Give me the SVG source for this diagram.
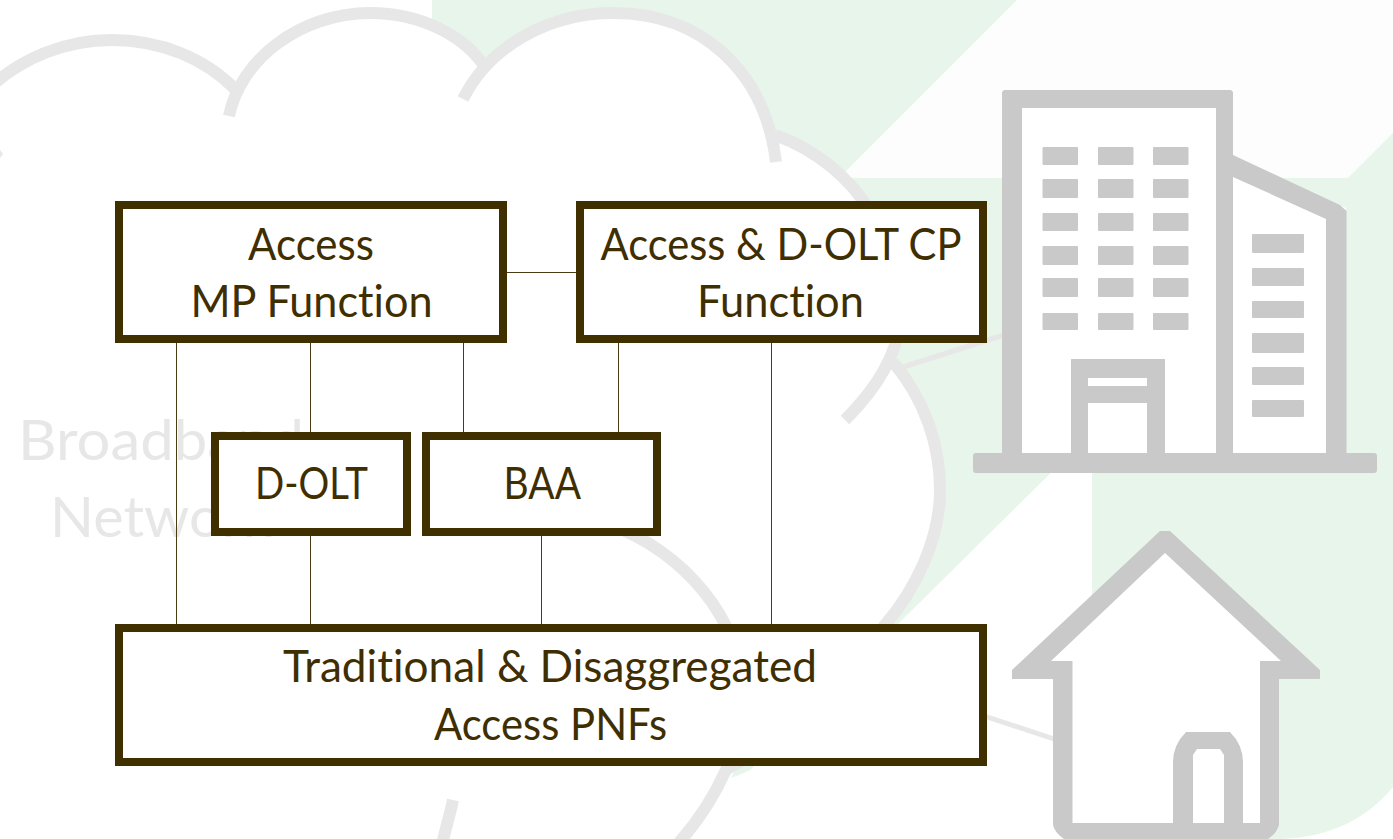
<svg xmlns="http://www.w3.org/2000/svg" width="1393" height="839" viewBox="0 0 1393 839">
<style>
.arc{fill:none;stroke:#E7E7E7;stroke-width:12}
.wire{fill:none;stroke:#E7E7E7;stroke-width:5}
.g{fill:#C9C9C9}
.ic{fill:#fff;stroke:#C9C9C9;stroke-linejoin:round}
.box{fill:#fff;stroke:#403000;stroke-width:8}
.lbl{font-family:Lato,"Liberation Sans",sans-serif;font-size:43.500px;fill:#3F2F00;font-variant-ligatures:none}
.ghost{font-family:Lato,"Liberation Sans",sans-serif;font-size:57px;fill:#E7E7E7}
.c{stroke:#4A3B12;stroke-width:1;fill:none}
</style>
<rect width="1393" height="839" fill="#fff"/>
<g id="background">
<path fill="#E7F5EA" d="M432 0H1393V787Q1350 839 1274 839H1092V453H1071L750 770Q735 778 720 780H432Z"/>
<path fill="#FDFDFD" d="M1017 0H1393V133L1348 178H839Z"/>
</g>
<g id="cloud">
<path fill="#fff" d="M-20 100C20 55 70 40 112 40C160 40 205 58 237 88C270 35 320 13 370 13C420 13 465 35 487 70C520 30 565 13 614 13C700 13 765 70 776 135C860 165 905 250 900 320L893 362C925 400 940 445 940 490C940 540 915 590 885 625C850 670 800 730 735 770C720 800 700 825 675 845L-20 845Z"/>
<path class="arc" d="M-20 97C20 55 70 40 112 40C160 40 205 58 236 90"/>
<path class="arc" d="M229 116C240 60 300 13 370 13C420 13 465 35 487 70"/>
<path class="arc" d="M463 99C490 45 550 13 614 13C700 13 765 70 776 162"/>
<path class="arc" d="M775 135C860 165 905 250 900 320C897 360 870 395 845 420"/>
<path class="arc" d="M893 362C925 400 940 445 940 490C940 540 915 590 885 625C850 670 800 730 725 770"/>
<path class="arc" d="M610 525C682 550 743 620 743 695C743 745 717 800 677 845"/>
<path class="arc" d="M453 800C450 815 445 830 442 845"/>
<polygon fill="#E7E7E7" points="0,150 3,154 0,158"/>
<text class="ghost" x="18" y="460" textLength="286" lengthAdjust="spacingAndGlyphs">Broadband</text>
<text class="ghost" x="50" y="537" textLength="222" lengthAdjust="spacingAndGlyphs">Network</text>
</g>
<g id="cloud-links">
<path class="wire" d="M900 368L1010 333"/>
<path class="wire" d="M960 708L1060 741"/>
</g>
<g id="building">
<path class="ic" stroke-width="0" d="M1233 155L1346 208V460H1233Z"/>
<path class="g" d="M1233 155L1340 205L1346.500 211V455H1326V219L1233 177Z"/>
<path class="g" d="M1004 90H1231L1233 92V455H1216V108H1022.500V455H1002V92Z"/>
<rect x="1022" y="108" width="194" height="346" fill="#fff"/>
<path class="g" d="M1071 359H1165V455H1147V403H1088V455H1071ZM1088 378V386H1147V378Z" fill-rule="evenodd"/>
<rect class="g" x="973" y="453" width="404" height="20" rx="3"/>
<g class="g">
<rect x="1042.500" y="147" width="35.500" height="18" rx="1"/><rect x="1098" y="147" width="35.500" height="18" rx="1"/><rect x="1153" y="147" width="35.500" height="18" rx="1"/>
<rect x="1042.500" y="179" width="35.500" height="19" rx="1"/><rect x="1098" y="179" width="35.500" height="19" rx="1"/><rect x="1153" y="179" width="35.500" height="19" rx="1"/>
<rect x="1042.500" y="213" width="35.500" height="18" rx="1"/><rect x="1098" y="213" width="35.500" height="18" rx="1"/><rect x="1153" y="213" width="35.500" height="18" rx="1"/>
<rect x="1042.500" y="246" width="35.500" height="19" rx="1"/><rect x="1098" y="246" width="35.500" height="19" rx="1"/><rect x="1153" y="246" width="35.500" height="19" rx="1"/>
<rect x="1042.500" y="278" width="35.500" height="19" rx="1"/><rect x="1098" y="278" width="35.500" height="19" rx="1"/><rect x="1153" y="278" width="35.500" height="19" rx="1"/>
<rect x="1042.500" y="313" width="35.500" height="17" rx="1"/><rect x="1098" y="313" width="35.500" height="17" rx="1"/><rect x="1153" y="313" width="35.500" height="17" rx="1"/>
<rect x="1252" y="234" width="52" height="19" rx="1"/><rect x="1252" y="268" width="52" height="18" rx="1"/><rect x="1252" y="301" width="52" height="17" rx="1"/>
<rect x="1252" y="333" width="52" height="20" rx="1"/><rect x="1252" y="367" width="52" height="18" rx="1"/><rect x="1252" y="400" width="52" height="17" rx="1"/>
</g>
</g>
<g id="house">
<path fill="#fff" d="M1165 531L1320 670V679H1279V825L1265 839H1067L1053 825V679H1012V670Z"/>
<path class="g" fill-rule="evenodd" d="M1160 531H1170L1320 670V679H1279V825Q1277 833 1268 839H1064Q1055 833 1053 825V679H1012V670ZM1165 553L1051 661H1072.500V823H1173V762Q1173 745 1186 732H1230Q1243 745 1243 762V823H1260V661H1281ZM1193 755V823H1224V755L1220 749H1197Z"/>
</g>
<g id="connectors">
<path class="c" d="M176.500 343V624M310.500 343V432M310.500 536V624M463.500 343V432M618.500 343V432M771.500 343V624M541.500 536V624M507 272.500H576"/>
</g>
<g id="access-mp">
<rect class="box" x="119" y="205" width="384" height="134"/>
<text class="lbl" x="248" y="260" textLength="126" lengthAdjust="spacingAndGlyphs">Access</text>
<text class="lbl" x="190.500" y="317" textLength="242" lengthAdjust="spacingAndGlyphs">MP Function</text>
</g>
<g id="access-cp">
<rect class="box" x="580" y="205" width="403" height="134"/>
<text class="lbl" x="600.500" y="260" textLength="361" lengthAdjust="spacingAndGlyphs">Access &amp; D-OLT CP</text>
<text class="lbl" x="697" y="317" textLength="167" lengthAdjust="spacingAndGlyphs">Function</text>
</g>
<g id="d-olt">
<rect class="box" x="215" y="436" width="192" height="96"/>
<text class="lbl" x="255" y="499" textLength="113" lengthAdjust="spacingAndGlyphs">D-OLT</text>
</g>
<g id="baa">
<rect class="box" x="426" y="436" width="231" height="96"/>
<text class="lbl" x="503.500" y="499" textLength="77.500" lengthAdjust="spacingAndGlyphs">BAA</text>
</g>
<g id="pnfs">
<rect class="box" x="119" y="628" width="864" height="134"/>
<text class="lbl" x="283" y="682" textLength="534" lengthAdjust="spacingAndGlyphs">Traditional &amp; Disaggregated</text>
<text class="lbl" x="434" y="740" textLength="233" lengthAdjust="spacingAndGlyphs">Access PNFs</text>
</g>
</svg>
